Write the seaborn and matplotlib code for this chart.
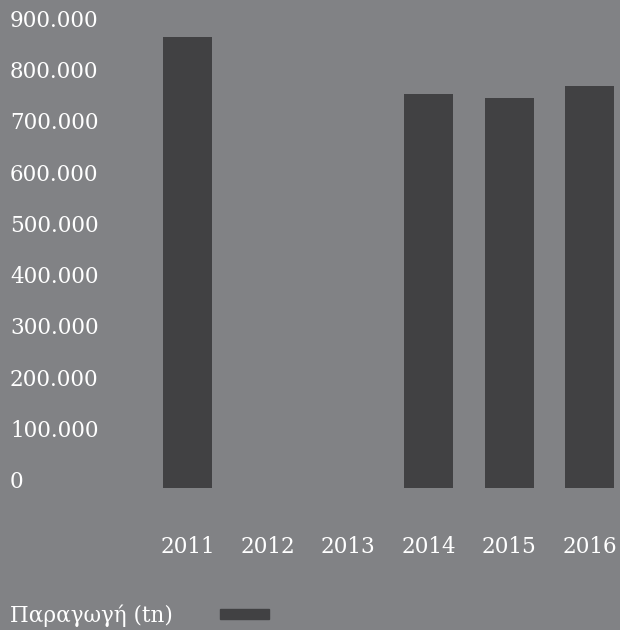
import numpy as np
import pandas as pd
import matplotlib
matplotlib.use("Agg")
import matplotlib.pyplot as plt
import matplotlib.patches as mpatches
import seaborn as sns

# data (2012, 2013 have no value)
years = ["2011", "2012", "2013", "2014", "2015", "2016"]
production = [880000, np.nan, np.nan, 769000, 761000, 785000]
y_ticks = [0, 100000, 200000, 300000, 400000, 500000, 600000, 700000, 800000, 900000]
legend_label = "Παραγωγή (tn)"

BG = "#818285"
BAR = "#414143"
TXT = "#ffffff"
FS = 15.5

df = pd.DataFrame({"year": years, "production": production})

sns.set_style("white")
plt.rcParams["font.family"] = ["DejaVu Serif", "DejaVu Sans"]

fig = plt.figure(figsize=(6.2, 6.3), dpi=100, facecolor=BG)
ax = fig.add_axes([147.25 / 620, (630 - 488) / 630, (620 - 147.25) / 620, (488 - 27) / 630])
ax.set_facecolor(BG)

sns.barplot(data=df, x="year", y="production", order=years, color=BAR,
            saturation=1, width=0.61, errorbar=None, linewidth=0, ax=ax)

ax.set_xlim(-0.5, 5.379)
ax.set_ylim(0, 900000)
for s in ax.spines.values():
    s.set_visible(False)
ax.set_xlabel("")
ax.set_ylabel("")

ax.set_yticks(y_ticks)
ax.set_yticklabels([f"{v:,}".replace(",", ".") for v in y_ticks])
ax.tick_params(axis="y", length=0, pad=98.8, labelsize=FS, labelcolor=TXT)
for lbl in ax.get_yticklabels():
    lbl.set_ha("left")
    lbl.set_va("baseline")

ax.tick_params(axis="x", length=0, labelsize=FS, labelcolor=TXT)
for lbl in ax.get_xticklabels():
    lbl.set_va("baseline")
ax.tick_params(axis="x", pad=46.5)

# legend: label then swatch
fig.text(10 / 620, 1 - 622 / 630, legend_label, color=TXT, fontsize=FS,
         ha="left", va="baseline")
fig.patches.append(mpatches.Rectangle((220 / 620, 1 - 619 / 630), 49 / 620, 10 / 630,
                                      transform=fig.transFigure, color=BAR))

fig.savefig("out.png", dpi=100, facecolor=BG)
